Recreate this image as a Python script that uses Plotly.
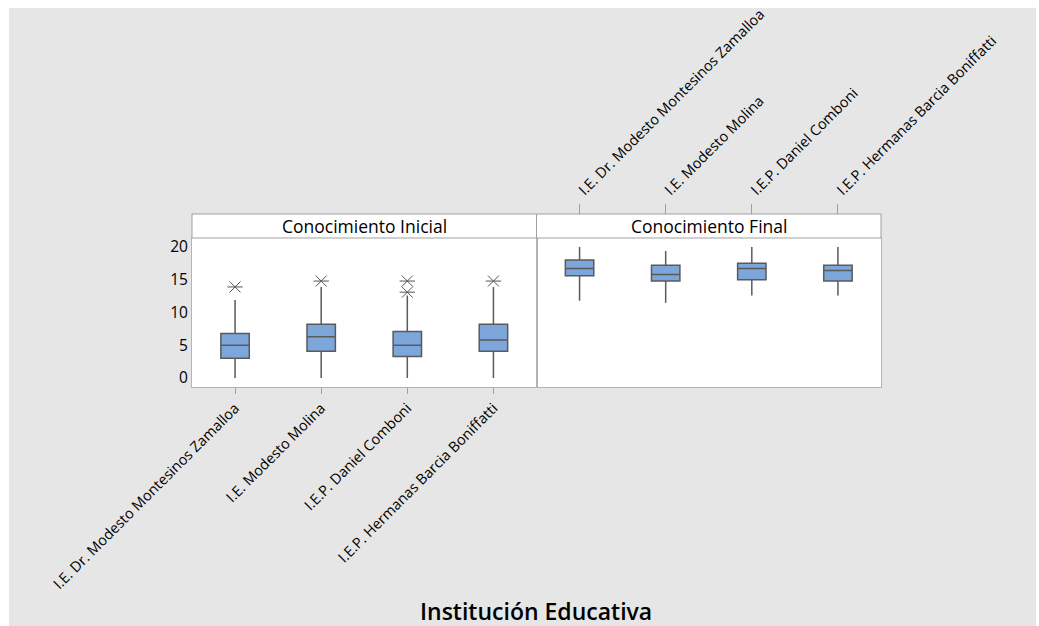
import plotly.graph_objects as go

W, H = 1039, 626
L, R, T, B = 192, 881, 238, 387

categories = ["I.E. Dr. Modesto Montesinos Zamalloa", "I.E. Modesto Molina",
              "I.E.P. Daniel Comboni", "I.E.P. Hermanas Barcia Boniffatti"]

# Conocimiento Inicial
ini_lower = [0, 0, 0, 0]
ini_q1 = [3.0, 4.1, 3.3, 4.1]
ini_median = [5.0, 6.3, 5.0, 5.8]
ini_q3 = [6.8, 8.2, 7.1, 8.2]
ini_upper = [11.9, 13.9, 12.6, 13.9]
ini_out_x = [categories[0], categories[1], categories[2], categories[2], categories[3]]
ini_out_y = [13.9, 14.8, 13.1, 14.8, 14.8]

# Conocimiento Final
fin_lower = [11.8, 11.5, 12.6, 12.6]
fin_q1 = [15.6, 14.8, 15.0, 14.8]
fin_median = [16.7, 15.8, 16.7, 16.4]
fin_q3 = [18.0, 17.2, 17.5, 17.2]
fin_upper = [20.0, 19.4, 20.0, 20.0]

panel_titles = ["Conocimiento Inicial", "Conocimiento Final"]
x_title = "Institución Educativa"
y_ticks = [0, 5, 10, 15, 20]

FONT = "Open Sans"
box_fill = "#7da6da"
box_line = "#5a5a5a"


def px_x(p):
    return (p - L) / (R - L)


def px_y(p):
    return (B - p) / (B - T)


fig = go.Figure()

fig.add_trace(go.Box(x=categories, q1=ini_q1, median=ini_median, q3=ini_q3,
                     lowerfence=ini_lower, upperfence=ini_upper,
                     fillcolor=box_fill, line=dict(color=box_line, width=1.5),
                     whiskerwidth=0, width=0.33, boxpoints=False,
                     xaxis="x", yaxis="y", showlegend=False, hoverinfo="skip"))
fig.add_trace(go.Box(x=categories, q1=fin_q1, median=fin_median, q3=fin_q3,
                     lowerfence=fin_lower, upperfence=fin_upper,
                     fillcolor=box_fill, line=dict(color=box_line, width=1.5),
                     whiskerwidth=0, width=0.33, boxpoints=False,
                     xaxis="x2", yaxis="y2", showlegend=False, hoverinfo="skip"))
for sym in ["x-thin-open", "line-ew-open"]:
    fig.add_trace(go.Scatter(x=ini_out_x, y=ini_out_y, mode="markers",
                             marker=dict(symbol=sym, size=11, color="#555555",
                                         line=dict(color="#555555", width=1)),
                             xaxis="x", yaxis="y", showlegend=False, hoverinfo="skip"))

axis_common = dict(showgrid=False, zeroline=False, showline=True, linecolor="#b4b4b4",
                   linewidth=1, mirror=True, automargin=False)

fig.update_layout(
    width=W, height=H,
    margin=dict(l=L, r=W - R, t=T, b=H - B, autoexpand=False),
    paper_bgcolor="#e6e6e6", plot_bgcolor="white",
    font=dict(family=FONT, color="black"),
    xaxis=dict(domain=[0, 0.5], type="category", categoryorder="array", categoryarray=categories,
               range=[-0.5, 3.5], side="bottom", ticks="outside", ticklen=6, tickcolor="#a0a0a0",
               tickangle=-45, tickfont=dict(size=14.5, family=FONT), anchor="y", **axis_common),
    xaxis2=dict(domain=[0.5, 1], type="category", categoryorder="array", categoryarray=categories,
                range=[-0.5, 3.5], side="top", ticks="outside", ticklen=33, tickcolor="#a0a0a0",
                tickangle=-45, tickfont=dict(size=14.5, family=FONT), anchor="y2", **axis_common),
    yaxis=dict(domain=[0, 1], range=[-1.37, 21.37], tickvals=y_ticks, ticks="",
               tickfont=dict(size=15.5, family=FONT), anchor="x", **axis_common),
    yaxis2=dict(domain=[0, 1], range=[-1.37, 21.37], tickvals=y_ticks, showticklabels=False,
                ticks="", anchor="x2", matches="y", **axis_common),
)

shapes = []
annotations = []
strip_top = px_y(214)
for i, t in enumerate(panel_titles):
    x0, x1 = i * 0.5, (i + 1) * 0.5
    shapes.append(dict(type="rect", xref="paper", yref="paper", x0=x0, x1=x1, y0=1, y1=strip_top,
                       fillcolor="white", line=dict(color="#a0a0a0", width=1), layer="above"))
    annotations.append(dict(text=t, xref="paper", yref="paper", x=(x0 + x1) / 2,
                            y=(1 + strip_top) / 2, showarrow=False, xanchor="center",
                            yanchor="middle", font=dict(size=17.5, family=FONT)))

# white page border around grey area
for (a, b, c, d) in [(0, 9, 0, H), (1036, W, 0, H), (0, W, 0, 8)]:
    shapes.append(dict(type="rect", xref="paper", yref="paper", x0=px_x(a), x1=px_x(b),
                       y0=px_y(d), y1=px_y(c), fillcolor="white", line=dict(width=0),
                       layer="above"))

annotations.append(dict(text=x_title, xref="paper", yref="paper", x=px_x(536), y=px_y(611),
                        showarrow=False, xanchor="center", yanchor="middle",
                        font=dict(size=23, family=FONT, weight=600)))

fig.update_layout(shapes=shapes, annotations=annotations)

fig.write_html("out.html")
